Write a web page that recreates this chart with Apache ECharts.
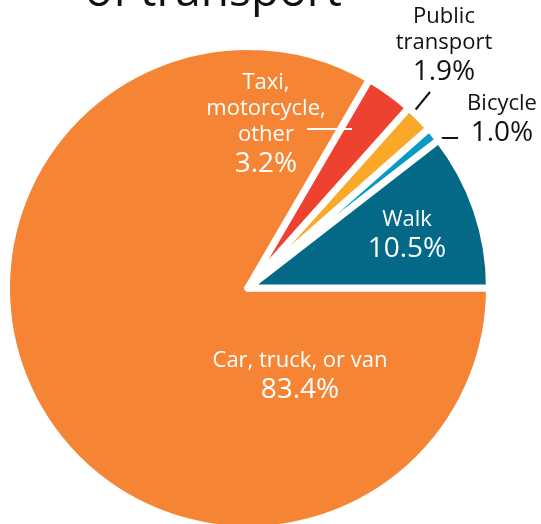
<!DOCTYPE html>
<html>
<head>
<meta charset="utf-8">
<script src="https://cdn.jsdelivr.net/npm/echarts@6/dist/echarts.min.js"></script>
<style>
  html, body { margin: 0; padding: 0; background: #fff; }
  #chart { width: 541px; height: 524px; }
</style>
</head>
<body>
<div id="chart"></div>
<script>
// data (clockwise from 3 o'clock)
const categories = ['Car, truck, or van', 'Taxi, motorcycle, other', 'Public transport', 'Bicycle', 'Walk'];
const labelNames = ['Car, truck, or van', 'Taxi,\nmotorcycle,\nother', 'Public\ntransport', 'Bicycle', 'Walk'];
const shares = [83.4, 3.2, 1.9, 1.0, 10.5];
const colors = ['#f58535', '#ee4130', '#f9a82a', '#0a9bc4', '#036987'];
const labelColors = ['#fff', '#fff', '#111', '#111', '#fff'];

// label placement (centre of text block) and leader lines
const labelPos = [[300, 377], [266, 125], [444, 46], [502, 120], [407, 236]];
const linePts = [null, null, [[430, 92], [407, 120], [407, 120]], [[432, 138], [458, 138], [458, 138]], null];
// taxi leader runs over the car slice, so it is drawn as a graphic on top
const taxiLeader = [307, 129, 352, 129];

const FONT = '"Open Sans"';

var chart = echarts.init(document.getElementById('chart'));

var data = categories.map(function (c, i) {
  var txtCol = labelColors[i];
  return {
    name: c,
    value: shares[i],
    itemStyle: { color: colors[i] },
    label: {
      rich: {
        n: { color: txtCol, fontSize: 22, lineHeight: 26, fontFamily: FONT },
        v: { color: txtCol, fontSize: 28, lineHeight: 33, fontFamily: FONT }
      }
    },
    labelLine: {
      show: linePts[i] != null,
      lineStyle: { color: txtCol, width: 2 }
    }
  };
});

var option = {
  animation: false,
  graphic: [{
    type: 'text',
    x: 85,
    y: -7,
    style: {
      text: 'of transport',
      font: '46px ' + FONT,
      fill: '#111',
      align: 'left',
      verticalAlign: 'middle'
    }
  }, {
    type: 'line',
    z: 100,
    shape: { x1: taxiLeader[0], y1: taxiLeader[1], x2: taxiLeader[2], y2: taxiLeader[3] },
    style: { stroke: '#fff', lineWidth: 2 }
  }],
  series: [{
    type: 'pie',
    center: [248, 288],
    radius: 241.5,
    startAngle: 0,
    clockwise: true,
    avoidLabelOverlap: false,
    itemStyle: { borderColor: '#fff', borderWidth: 7 },
    label: {
      show: true,
      position: 'outside',
      fontFamily: FONT,
      formatter: function (p) {
        var lines = labelNames[p.dataIndex].split('\n').map(function (l) { return '{n|' + l + '}'; });
        return lines.join('\n') + '\n{v|' + p.value.toFixed(1) + '%}';
      }
    },
    labelLine: { show: true, showAbove: true },
    labelLayout: function (params) {
      var i = params.dataIndex;
      var out = { x: labelPos[i][0], y: labelPos[i][1], align: 'center', verticalAlign: 'middle' };
      if (linePts[i]) out.labelLinePoints = linePts[i];
      return out;
    },
    data: data
  }]
};

chart.setOption(option);
</script>
</body>
</html>
